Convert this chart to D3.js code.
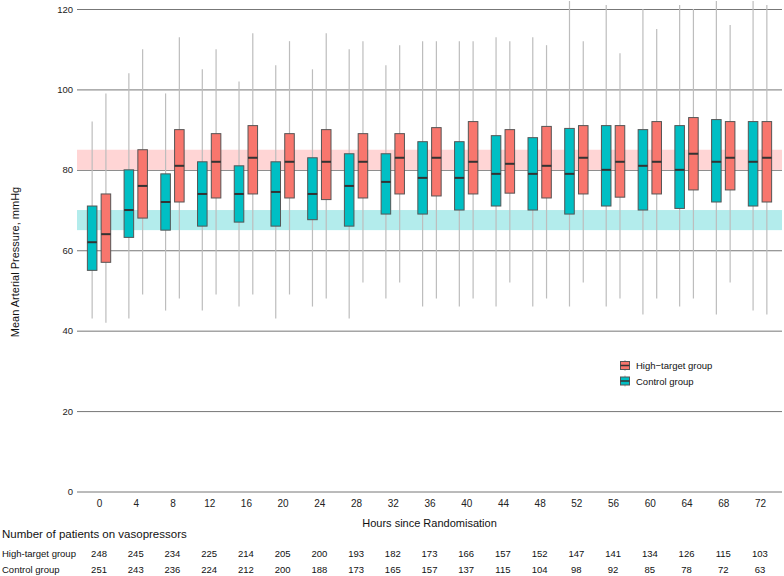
<!DOCTYPE html>
<html><head><meta charset="utf-8">
<script src="https://cdn.jsdelivr.net/npm/d3@7"></script>
<style>body{margin:0;background:#fff}svg{display:block;font-family:"Liberation Sans",Arial,sans-serif}</style>
</head><body><svg id="c" width="784" height="576"></svg>
<script>
const hours = [0,4,8,12,16,20,24,28,32,36,40,44,48,52,56,60,64,68,72];
// Control group box stats
const ctrlMin = [43,43,45,45,46,43,46,43,48,46,46,46,46,46,46,44,46,44,45];
const ctrlQ1  = [55,63.2,65,66,67,66,67.6,66,69,69,70,71,70,69,71,70,70.4,72,71];
const ctrlMed = [62,70,72,74,74,74.5,74,76,77,78,78,79,79,79,80,81,80,82,82];
const ctrlQ3  = [71,80,79,82,81,82,83,84,84,87,87,88.5,88,90.3,91,90,91,92.5,92];
const ctrlMax = [92,104,99,105,102,106,105,110,106,112,112,113,113,122,121,120,121,122,122];
// High-target group box stats
const highMin = [42,49,48,49,49,49,48,52,52,48,48,52,48,52,48,48,48,52,44];
const highQ1  = [57,68,72,73,74,73,72.6,73,74,73.5,74,74.2,73,74,73.2,74,75,75,72];
const highMed = [64,76,81,82,83,82,82,82,83,83,82,81.5,81,83,82,82,84,83,83];
const highQ3  = [74,85,90,89,91,89,90,89,89,90.5,92,90,90.8,91,91,92,93,92,92];
const highMax = [99,110,113,110,114,112,114,112,111,112,112,112,111,112,109,115,120,116,121];
// Patients on vasopressors
const nHigh = [248,245,234,225,214,205,200,193,182,173,166,157,152,147,141,134,126,115,103];
const nCtrl = [251,243,236,224,212,200,188,173,165,157,137,115,104,98,92,85,78,72,63];
const yTicks = [0,20,40,60,80,100,120];
const bandHigh = [80,85];
const bandCtrl = [65,70];

const svg = d3.select("#c");
const x = d3.scalePoint().domain(hours).range([77,782]).padding(0.6);
const y = d3.scaleLinear().domain([0,120]).range([491.5,9]);
const step = x.step();
const off = 0.1875*step, bw = 0.26*step;

const red = "#F8766D", teal = "#00BFC4";

// gridlines
const yAxis = d3.axisLeft(y).tickValues(yTicks).tickSize(-(782-77)).tickPadding(4);
const ga = svg.append("g").attr("transform","translate(77,0)").call(yAxis);
ga.select(".domain").remove();
ga.selectAll(".tick line").attr("stroke","#777").attr("stroke-width",1);
ga.selectAll(".tick text").attr("font-size",9.5).attr("fill","#222").attr("font-family","Liberation Sans, Arial, sans-serif");

// bands
svg.append("rect").attr("x",77).attr("width",782-77).attr("y",y(bandHigh[1])).attr("height",y(bandHigh[0])-y(bandHigh[1])).attr("fill","#FFD5D5");
svg.append("rect").attr("x",77).attr("width",782-77).attr("y",y(bandCtrl[1])).attr("height",y(bandCtrl[0])-y(bandCtrl[1])).attr("fill","#B3ECEC");

const groups = [
  {name:"ctrl", dx:-off, fill:teal, mn:ctrlMin, q1:ctrlQ1, md:ctrlMed, q3:ctrlQ3, mx:ctrlMax},
  {name:"high", dx:off, fill:red, mn:highMin, q1:highQ1, md:highMed, q3:highQ3, mx:highMax}
];
groups.forEach(g=>{
  const data = hours.map((h,i)=>({h, mn:g.mn[i], q1:g.q1[i], md:g.md[i], q3:g.q3[i], mx:g.mx[i]}));
  const gg = svg.append("g");
  gg.selectAll("line.w").data(data).join("line")
    .attr("x1",d=>x(d.h)+g.dx).attr("x2",d=>x(d.h)+g.dx)
    .attr("y1",d=>y(d.mn)).attr("y2",d=>y(d.mx))
    .attr("stroke","#bdbdbd").attr("stroke-width",1.2);
  gg.selectAll("rect").data(data).join("rect")
    .attr("x",d=>x(d.h)+g.dx-bw/2).attr("width",bw)
    .attr("y",d=>y(d.q3)).attr("height",d=>y(d.q1)-y(d.q3))
    .attr("fill",g.fill).attr("stroke","#555").attr("stroke-width",1);
  gg.selectAll("line.m").data(data).join("line")
    .attr("x1",d=>x(d.h)+g.dx-bw/2).attr("x2",d=>x(d.h)+g.dx+bw/2)
    .attr("y1",d=>y(d.md)).attr("y2",d=>y(d.md))
    .attr("stroke","#333").attr("stroke-width",2);
});

// x labels
const xAxis = d3.axisBottom(x).tickSize(0).tickPadding(0);
const gx = svg.append("g").attr("transform","translate(0,500)").call(xAxis);
gx.select(".domain").remove();
gx.selectAll(".tick text").attr("font-size",10).attr("fill","#222").attr("dy","0.71em").attr("font-family","Liberation Sans, Arial, sans-serif");

svg.append("text").attr("x",(77+782)/2).attr("y",527).attr("text-anchor","middle").attr("font-size",11).attr("fill","#111").text("Hours since Randomisation");
svg.append("text").attr("transform","translate(19,262) rotate(-90)").attr("text-anchor","middle").attr("font-size",11).attr("fill","#111").text("Mean Arterial Pressure, mmHg");

// table
svg.append("text").attr("x",2).attr("y",538).attr("font-size",11.5).attr("fill","#111").text("Number of patients on vasopressors");
svg.append("text").attr("x",2).attr("y",556.5).attr("font-size",9.5).attr("fill","#111").text("High-target group");
svg.append("text").attr("x",2).attr("y",573).attr("font-size",9.5).attr("fill","#111").text("Control group");
svg.append("g").selectAll("text").data(hours.map((h,i)=>({h,n:nHigh[i]}))).join("text")
  .attr("x",d=>x(d.h)).attr("y",556.5).attr("text-anchor","middle").attr("font-size",9.5).attr("fill","#111").text(d=>d.n);
svg.append("g").selectAll("text").data(hours.map((h,i)=>({h,n:nCtrl[i]}))).join("text")
  .attr("x",d=>x(d.h)).attr("y",573).attr("text-anchor","middle").attr("font-size",9.5).attr("fill","#111").text(d=>d.n);

// legend
const leg = [{label:"High\u2212target group", fill:red, cy:365.5},{label:"Control group", fill:teal, cy:381}];
const lg = svg.append("g");
leg.forEach(l=>{
  lg.append("line").attr("x1",625).attr("x2",625).attr("y1",l.cy-5.5).attr("y2",l.cy+5.5).attr("stroke","#bdbdbd").attr("stroke-width",1.2);
  lg.append("rect").attr("x",620.5).attr("width",9).attr("y",l.cy-4).attr("height",8).attr("fill",l.fill).attr("stroke","#555").attr("stroke-width",1);
  lg.append("line").attr("x1",620.5).attr("x2",629.5).attr("y1",l.cy).attr("y2",l.cy).attr("stroke","#333").attr("stroke-width",1.5);
  lg.append("text").attr("x",636).attr("y",l.cy+3.5).attr("font-size",9.5).attr("fill","#111").text(l.label);
});
</script></body></html>
